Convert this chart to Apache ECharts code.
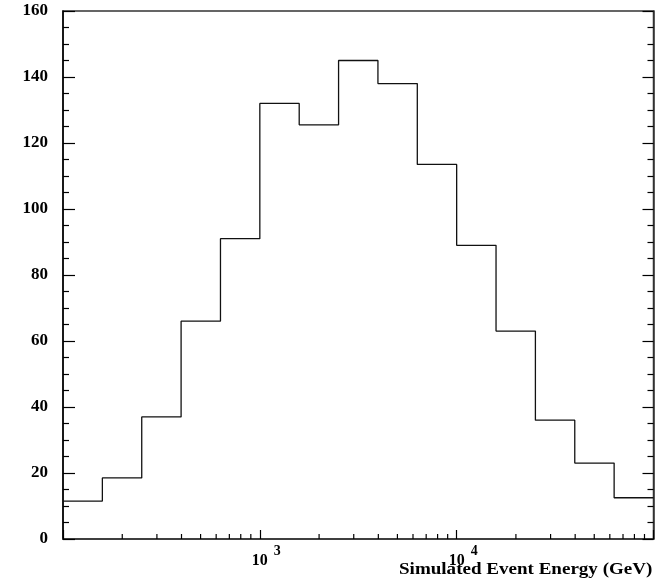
<!DOCTYPE html>
<html><head><meta charset="utf-8">
<script src="https://cdn.jsdelivr.net/npm/echarts@6/dist/echarts.min.js"></script>
<style>html,body{margin:0;padding:0;background:#fff}#c{width:660px;height:581px}</style>
</head><body><div id="c"></div>
<script>
// Bin edges (GeV), 0.2 decade wide, and counts per bin
const binEdges = [100, 158.5, 251.2, 398.1, 631.0, 1000, 1585, 2512, 3981, 6310, 10000, 15849, 25119, 39811, 63096, 100000];
const counts = [11.5, 18.5, 37, 66, 91, 132, 125.5, 145, 138, 113.5, 89, 63, 36, 23, 12.5];
// Minor tick positions on the log x axis
const xMinorTicks = [200,300,400,500,600,700,800,900,2000,3000,4000,5000,6000,7000,8000,9000,20000,30000,40000,50000,60000,70000,80000,90000];
// Labelled decades
const xLabels = {1000: '3', 10000: '4'};
const xTitle = 'Simulated Event Energy (GeV)';

const FONT = 'Liberation Serif';
const chart = echarts.init(document.getElementById('c'), null, {renderer: 'canvas'});
const stepData = binEdges.map((e, i) => [e, counts[Math.min(i, counts.length - 1)]]);

chart.setOption({
  animation: false,
  backgroundColor: '#fff',
  grid: {left: 63, right: 6.5, top: 11, bottom: 42, show: true, borderColor: '#333', borderWidth: 1.5, backgroundColor: 'transparent'},
  xAxis: {
    type: 'log', logBase: 10, min: 100, max: 100000,
    axisLine: {show: true, lineStyle: {color: '#333', width: 1.5}},
    axisTick: {show: true, inside: true, length: 9, lineStyle: {color: '#000', width: 1.2}},
    splitLine: {show: false},
    axisLabel: {
      margin: 5,
      formatter: v => xLabels[Math.round(v)] ? '{p|}{n|10}{s|' + xLabels[Math.round(v)] + '}' : '',
      rich: {
        p: {width: 13},
        n: {fontFamily: FONT, fontWeight: 'bold', fontSize: 16, color: '#000', lineHeight: 25, verticalAlign: 'bottom'},
        s: {fontFamily: FONT, fontWeight: 'bold', fontSize: 14, color: '#000', padding: [0, 0, 0, 6], verticalAlign: 'top', lineHeight: 14}
      }
    }
  },
  yAxis: [{
    type: 'value', min: 0, max: 160, interval: 20, position: 'left',
    axisLine: {show: true, lineStyle: {color: '#000', width: 1.5}},
    axisTick: {show: true, inside: true, length: 12, lineStyle: {color: '#000', width: 1.2}},
    minorTick: {show: true, splitNumber: 4, length: 6, lineStyle: {color: '#000', width: 1.2}},
    splitLine: {show: false}, minorSplitLine: {show: false},
    axisLabel: {margin: 15, fontFamily: FONT, fontWeight: 'bold', fontSize: 17, color: '#000'}
  }, {
    type: 'value', min: 0, max: 160, interval: 20, position: 'right',
    axisLine: {show: true, lineStyle: {color: '#333', width: 1.5}},
    axisTick: {show: true, inside: true, length: 11, lineStyle: {color: '#000', width: 1.2}},
    minorTick: {show: true, splitNumber: 4, length: 6, lineStyle: {color: '#000', width: 1.2}},
    splitLine: {show: false}, axisLabel: {show: false}
  }],
  series: [{
    type: 'line', step: 'end', data: stepData, symbol: 'none', clip: true,
    lineStyle: {color: '#111', width: 1.3}
  }, {
    type: 'custom', data: xMinorTicks.map(v => [v, 0]), clip: false, silent: true,
    renderItem: (params, api) => {
      const p = api.coord([api.value(0), 0]);
      return {type: 'line', shape: {x1: p[0], y1: p[1], x2: p[0], y2: p[1] - 5}, style: {stroke: '#000', lineWidth: 1.2}};
    }
  }],
  graphic: [{
    type: 'text', x: 399, y: 561, scaleX: 1.12, scaleY: 1,
    style: {text: xTitle, font: 'bold 17px "' + FONT + '"', fill: '#000', textBaseline: 'top'}
  }]
});
</script></body></html>
